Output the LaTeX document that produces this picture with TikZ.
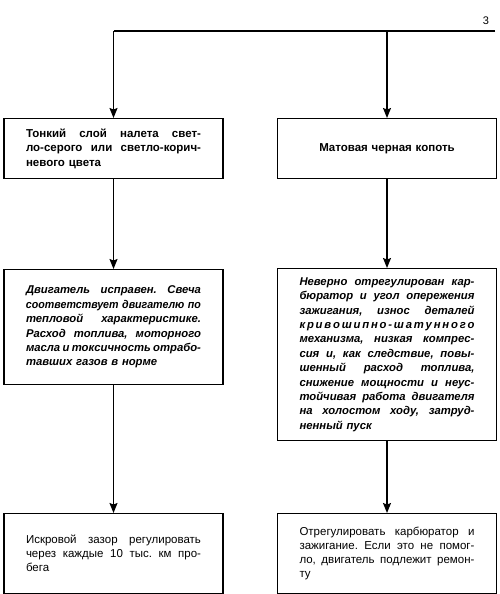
\documentclass[tikz,border=0pt]{standalone}
\usepackage{fontspec}
\setmainfont{Liberation Sans}
\usetikzlibrary{arrows.meta}
\frenchspacing
\newsavebox\jlb
\newcommand{\jl}[1]{\leavevmode\sbox\jlb{#1}\ifdim\wd\jlb>181pt\resizebox{175pt}{\height}{\usebox\jlb}\else\hbox to 175pt{\frenchspacing\spaceskip=0.25em plus 1fil minus 0.08em\relax #1}\fi}
\newcommand{\spl}[1]{\leavevmode\hbox to 175pt{#1}}
\tikzset{
  box/.style={draw, line width=1.3pt, minimum width=219pt, text width=175pt, align=left, anchor=north, inner sep=0pt},
  bfs/.style={font=\fontsize{11.5pt}{14.4pt}\selectfont\bfseries},
  bis/.style={font=\fontsize{11.3pt}{14.4pt}\selectfont\bfseries\itshape},
  rgs/.style={font=\fontsize{11.5pt}{14pt}\selectfont},
  arr/.style={line width=1.3pt, -{Stealth[length=10pt,width=8pt,inset=1.5pt]}},
  ln/.style={line width=1.3pt}
}
\begin{document}
\begin{tikzpicture}[x=1pt,y=-1pt]
\useasboundingbox (0,0) rectangle (500,594);
\coordinate (tr) at (495,31);
\coordinate (tl) at (113.5,31);
\coordinate (tm) at (387,31);
\node[font=\fontsize{11pt}{12pt}\selectfont] (lab) at (486,21) {3};

\node[box, bfs, minimum height=60pt] (b1) at (113.5,118)
 {\jl{Тонкий слой налета свет-}\\\jl{ло-серого или светло-корич-}\\невого цвета};
\node[box, bfs, minimum height=60pt, align=center] (b2) at (387,118)
 {Матовая черная копоть};

\node[box, bis, minimum height=115pt] (b3) at (113.5,269)
 {\jl{Двигатель исправен. Свеча}\\\jl{соответствует двигателю по}\\\jl{тепловой характеристике.}\\\jl{Расход топлива, моторного}\\\jl{масла и токсичность отрабо-}\\тавших газов в норме};
\node[box, bis, minimum height=172pt] (b4) at (387,268)
 {\jl{Неверно отрегулирован кар-}\\\jl{бюратор и угол опережения}\\\jl{зажигания, износ деталей}\\\spl{к\hfill р\hfill и\hfill в\hfill о\hfill ш\hfill и\hfill п\hfill н\hfill о\hfill -\hfill ш\hfill а\hfill т\hfill у\hfill н\hfill н\hfill о\hfill г\hfill о}\\\jl{механизма, низкая компрес-}\\\jl{сия и, как следствие, повы-}\\\jl{шенный расход топлива,}\\\jl{снижение мощности и неус-}\\\jl{тойчивая работа двигателя}\\\jl{на холостом ходу, затруд-}\\ненный пуск};

\node[box, rgs, minimum height=80pt] (b5) at (113.5,513)
 {\jl{Искровой зазор регулировать}\\\jl{через каждые 10 тыс. км про-}\\бега};
\node[box, rgs, minimum height=80pt] (b6) at (387,513)
 {\jl{Отрегулировать карбюратор и}\\\jl{зажигание. Если это не помог-}\\\jl{ло, двигатель подлежит ремон-}\\ту};

\draw[ln] (tr) -- (tl);
\draw[arr] (tl) -- (b1.north);
\draw[arr] (tm) -- (b2.north);
\draw[arr] (b1.south) -- (b3.north);
\draw[arr] (b2.south) -- (b4.north);
\draw[arr] (b3.south) -- (b5.north);
\draw[arr] (b4.south) -- (b6.north);
\end{tikzpicture}
\end{document}
